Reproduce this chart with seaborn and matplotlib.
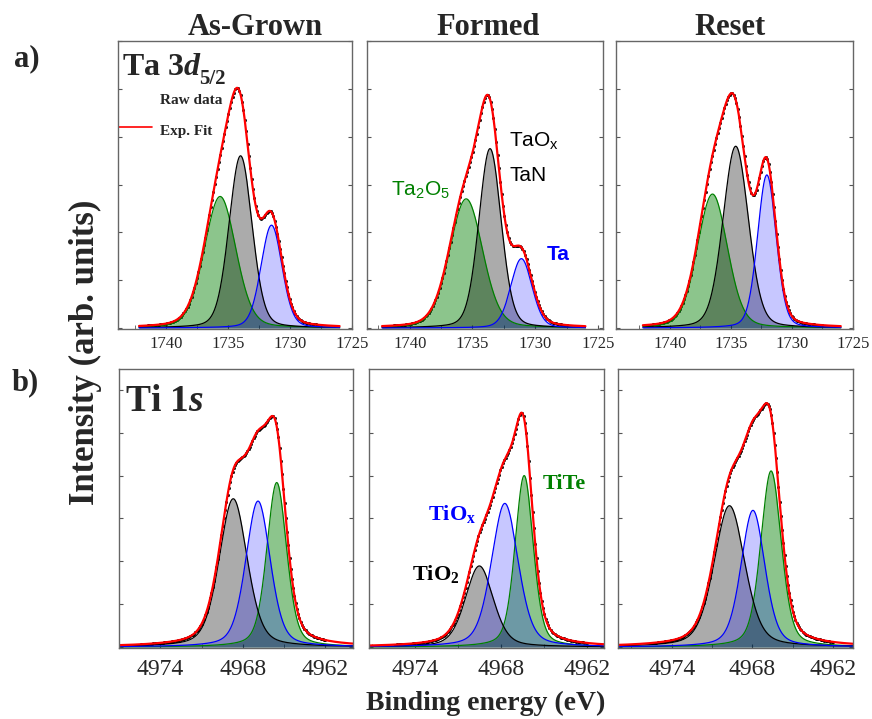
import numpy as np
import matplotlib
matplotlib.use("Agg")
import matplotlib.pyplot as plt
from matplotlib.ticker import MultipleLocator
import seaborn as sns

# peak parameters, order in each row: green, grey, blue
conditions = ["As-Grown", "Formed", "Reset"]

ta_centre = [[1735.65, 1734.0, 1731.5],
             [1735.5, 1733.6, 1731.1],
             [1736.5, 1734.6, 1732.05]]
ta_height = [[0.55, 0.72, 0.43],
             [0.54, 0.75, 0.29],
             [0.56, 0.76, 0.64]]
ta_fwhm = [[3.0, 2.2, 2.0],
           [3.1, 2.1, 2.0],
           [2.9, 2.45, 1.8]]

ti_centre = [[4965.54, 4968.7, 4966.9],
             [4966.37, 4969.5, 4967.72],
             [4966.6, 4969.7, 4967.95]]
ti_height = [[0.71, 0.64, 0.63],
             [0.74, 0.35, 0.62],
             [0.76, 0.61, 0.59]]
ti_fwhm = [[1.7, 2.4, 2.1],
           [1.5, 2.3, 2.2],
           [1.8, 2.7, 2.1]]

ta_labels = ["Ta$_\\mathsf{2}$O$_\\mathsf{5}$", "TaO$_\\mathsf{x}$", "TaN", "Ta"]
ti_labels = ["TiTe", "TiO$_2$", "TiO$_\\mathrm{x}$"]


def pseudo_voigt(x, c, h, w, eta):
    d = 4 * (x - c) ** 2 / w ** 2
    return h * ((1 - eta) * np.exp(-np.log(2) * d) + eta / (1 + d))


sns.set_style("ticks")
plt.rcParams["font.family"] = ["Liberation Serif", "DejaVu Serif"]
plt.rcParams["mathtext.fontset"] = "custom"
plt.rcParams["mathtext.rm"] = "Liberation Serif:bold"
plt.rcParams["mathtext.it"] = "Liberation Serif:bold:italic"
plt.rcParams["mathtext.sf"] = "Liberation Sans"

W, H = 872, 719
fig = plt.figure(figsize=(W / 100, H / 100), dpi=100)


def rect(l, t, r, b):
    return [l / W, 1 - b / H, (r - l) / W, (b - t) / H]


def fpos(x, y):
    return x / W, 1 - y / H


fills = ["green", "black", "blue"]
alphas = [0.45, 0.33, 0.22]
edges = ["#008000", "black", "blue"]


def draw_panel(ax, x, xd, centres, heights, widths, eta):
    comps = [pseudo_voigt(x, c, h, w, eta) for c, h, w in zip(centres, heights, widths)]
    for y, fc, a in zip(comps, fills, alphas):
        ax.fill_between(x, 0, y, color=fc, alpha=a, lw=0)
    for y, ec in zip(comps, edges):
        sns.lineplot(x=x, y=y, color=ec, lw=0.9, ax=ax)
    total = np.sum(comps, axis=0)
    sns.lineplot(x=x, y=total, color="red", lw=1.6, ax=ax)
    yd = np.sum([pseudo_voigt(xd, c, h, w, eta) for c, h, w in zip(centres, heights, widths)], axis=0)
    sns.scatterplot(x=xd, y=yd, color="black", s=4, edgecolor=None, ax=ax)


def style_axes(ax, xlim, major, minor, ystep, fs, pad):
    ax.set_xlim(*xlim)
    ax.set_ylim(-0.004, 1.2)
    ax.xaxis.set_major_locator(MultipleLocator(major))
    ax.xaxis.set_minor_locator(MultipleLocator(minor))
    ax.yaxis.set_major_locator(MultipleLocator(ystep))
    ax.set_yticklabels([])
    ax.set_xlabel("")
    ax.set_ylabel("")
    ax.tick_params(axis="x", which="both", direction="in", length=3, color="#555555",
                   labelsize=fs, pad=pad)
    ax.tick_params(axis="y", which="both", direction="in", length=3, color="#555555",
                   left=True, right=True)
    for sp in ax.spines.values():
        sp.set_visible(True)
        sp.set_color("#666666")
        sp.set_linewidth(1.0)


top_boxes = [(118, 41, 352, 329), (367, 41, 603, 329), (616, 41, 853, 329)]
bot_boxes = [(119, 369, 353, 648), (369, 369, 604, 648), (618, 369, 853, 648)]
ta_xlims = [(1743.9, 1725), (1743.4, 1724.6), (1744.4, 1725)]
ti_xlims = [(4977, 4960), (4977.2, 4960.8), (4978, 4960.5)]

x_ta = np.linspace(1742.2, 1726.0, 700)
xd_ta = np.arange(1727.5, 1742.0, 0.11)
x_ti = np.linspace(4978, 4959.5, 800)
xd_ti = np.arange(4962.0, 4975.5, 0.09)

axes_top, axes_bot = [], []
for i in range(3):
    ax = fig.add_axes(rect(*top_boxes[i]))
    draw_panel(ax, x_ta, xd_ta, ta_centre[i], ta_height[i], ta_fwhm[i], 0.2)
    style_axes(ax, ta_xlims[i], 5, 2.5, 0.2, 12, 5)
    axes_top.append(ax)

    ax = fig.add_axes(rect(*bot_boxes[i]))
    draw_panel(ax, x_ti, xd_ti, ti_centre[i], ti_height[i], ti_fwhm[i], 0.35)
    style_axes(ax, ti_xlims[i], 6, 3, 0.185, 17, 8)
    axes_bot.append(ax)

# column titles
for name, xc in zip(conditions, [255, 488, 730]):
    fig.text(*fpos(xc, 35), name, ha="center", va="baseline", fontsize=22, fontweight="bold")

fig.text(*fpos(14, 66), "a)", ha="left", va="baseline", fontsize=22, fontweight="bold")
fig.text(*fpos(12, 390), "b)", ha="left", va="baseline", fontsize=22, fontweight="bold")

# core level labels
fig.text(*fpos(122, 75), "Ta 3$d$", ha="left", va="baseline", fontsize=23, fontweight="bold")
fig.text(*fpos(199, 84), "5/2", ha="left", va="baseline", fontsize=15, fontweight="bold")
fig.text(*fpos(125, 411), "Ti 1$s$", ha="left", va="baseline", fontsize=27, fontweight="bold")

# legend
fig.text(*fpos(160, 104), "Raw data", ha="left", va="baseline", fontsize=11, fontweight="bold")
fig.text(*fpos(160, 135), "Exp. Fit", ha="left", va="baseline", fontsize=11, fontweight="bold")
axes_top[0].plot([0.0, 0.145], [0.703, 0.703], color="red", lw=1.2, transform=axes_top[0].transAxes)

# component labels
sans = ["Liberation Sans", "DejaVu Sans"]
fig.text(*fpos(391, 195), ta_labels[0], color="#008000", fontsize=15, family=sans, fontweight="medium")
fig.text(*fpos(509, 146), ta_labels[1], color="black", fontsize=15, family=sans)
fig.text(*fpos(509, 181), ta_labels[2], color="black", fontsize=15, family=sans)
fig.text(*fpos(547, 260), ta_labels[3], color="blue", fontsize=15, family=sans, fontweight="bold")

fig.text(*fpos(543, 489), ti_labels[0], color="#008000", fontsize=16, fontweight="bold")
fig.text(*fpos(412, 580), ti_labels[1], color="black", fontsize=16, fontweight="bold")
fig.text(*fpos(428, 520), ti_labels[2], color="blue", fontsize=16, fontweight="bold")

# axis titles
fig.text(*fpos(85, 352), "Intensity (arb. units)", rotation=90, ha="center", va="center",
         fontsize=25, fontweight="bold")
fig.text(*fpos(486, 710), "Binding energy (eV)", ha="center", va="baseline",
         fontsize=20, fontweight="bold")

fig.savefig("out.png", dpi=100)
